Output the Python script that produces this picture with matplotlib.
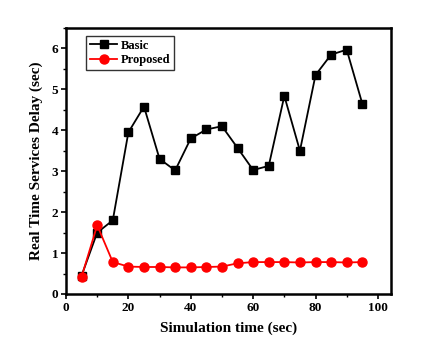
import matplotlib
matplotlib.use("Agg")
from matplotlib import pyplot as plt
from matplotlib.ticker import MultipleLocator

time = [5, 10, 15, 20, 25, 30, 35, 40, 45, 50, 55, 60, 65, 70, 75, 80, 85, 90, 95]
basic = [0.45, 1.50, 1.80, 3.95, 4.58, 3.30, 3.02, 3.80, 4.02, 4.10, 3.57,
         3.03, 3.13, 4.84, 3.50, 5.35, 5.85, 5.97, 4.65]
proposed = [0.42, 1.68, 0.78, 0.67, 0.66, 0.66, 0.65, 0.65, 0.66, 0.67, 0.75,
            0.78, 0.78, 0.78, 0.77, 0.78, 0.78, 0.77, 0.78]

plt.rcParams['font.family'] = ['Liberation Serif', 'DejaVu Serif']
plt.rcParams['font.weight'] = 'bold'

fig = plt.figure(figsize=(4.39, 3.42), dpi=100)
ax = fig.add_axes([66 / 439, 1 - 294 / 342, (391 - 66) / 439, (294 - 28) / 342])

ax.plot(time, basic, color='black', marker='s', markersize=6, linewidth=1.3, label='Basic')
ax.plot(time, proposed, color='red', marker='o', markersize=6.5, linewidth=1.3, label='Proposed')

ax.set_xlim(0, 104.2)
ax.set_ylim(0, 6.5)
ax.xaxis.set_major_locator(MultipleLocator(20))
ax.xaxis.set_minor_locator(MultipleLocator(10))
ax.yaxis.set_major_locator(MultipleLocator(1))
ax.yaxis.set_minor_locator(MultipleLocator(0.5))
ax.tick_params(which='major', direction='out', length=3.5, width=1.2, labelsize=9.5, pad=2)
ax.tick_params(which='minor', direction='out', length=2, width=1.0)
for s in ax.spines.values():
    s.set_linewidth(1.8)

ax.set_xlabel('Simulation time (sec)', fontsize=11, fontweight='bold', labelpad=6)
ax.set_ylabel('Real Time Services Delay (sec)', fontsize=11, fontweight='bold', labelpad=6)

leg = ax.legend(loc='upper left', bbox_to_anchor=(0.062, 0.97), fontsize=9, frameon=True,
                fancybox=False, edgecolor='black', borderpad=0.3, handlelength=2.2,
                handletextpad=0.3, labelspacing=0.2, borderaxespad=0)
leg.get_frame().set_linewidth(1.0)

plt.savefig('out.png', dpi=100)
